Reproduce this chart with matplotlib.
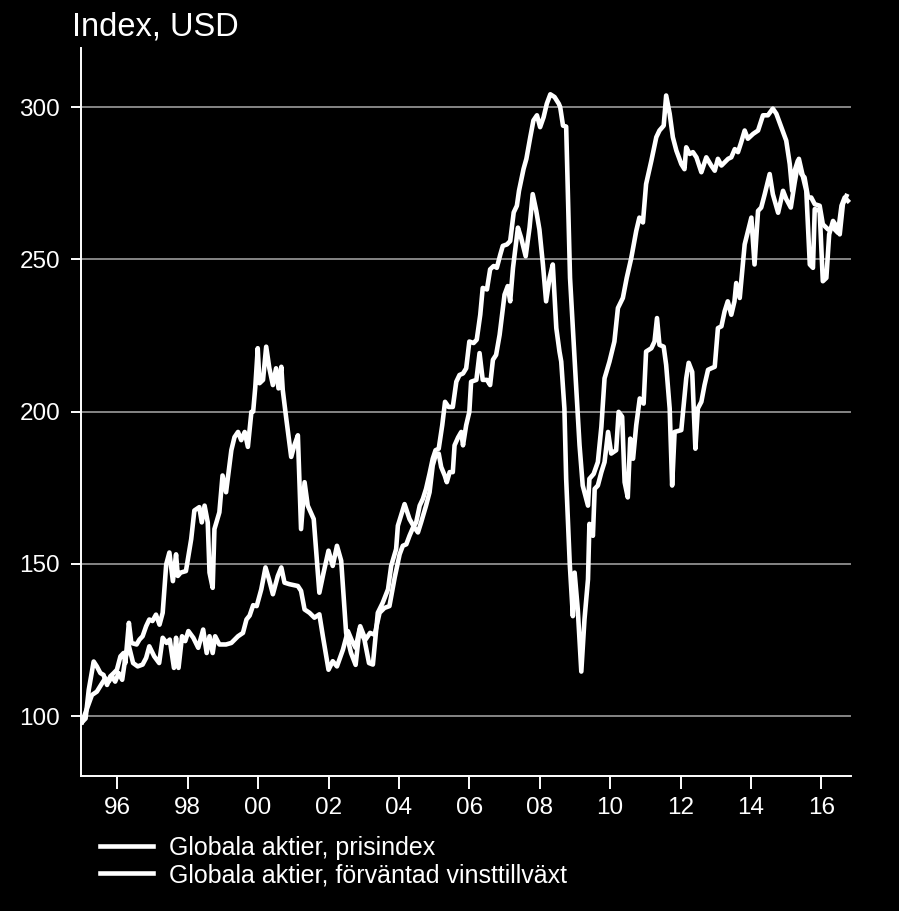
import matplotlib
matplotlib.use("Agg")
import matplotlib.pyplot as plt
from matplotlib.lines import Line2D

plt.rcParams['font.family'] = ['Liberation Sans', 'DejaVu Sans']

# ---------------- data (decimal years, index values) ----------------
price_t = [1995.00, 1995.10, 1995.19, 1995.33, 1995.42, 1995.52, 1995.61, 1995.71, 1995.80, 1995.90,
           1995.99, 1996.09, 1996.18, 1996.23, 1996.33, 1996.40, 1996.55, 1996.63, 1996.72, 1996.82,
           1996.91, 1997.00, 1997.10, 1997.20, 1997.29, 1997.39, 1997.48, 1997.58, 1997.67, 1997.72,
           1997.80, 1997.95, 1998.10, 1998.19, 1998.33, 1998.40, 1998.48, 1998.57, 1998.62, 1998.71,
           1998.76, 1998.90, 1998.99, 1999.09, 1999.24, 1999.33, 1999.43, 1999.52, 1999.62, 1999.71,
           1999.81, 1999.86, 1999.92, 1999.99, 2000.04, 2000.14, 2000.23, 2000.32, 2000.42, 2000.51,
           2000.58, 2000.66, 2000.70, 2000.80, 2000.94, 2001.03, 2001.13, 2001.22, 2001.32, 2001.41,
           2001.58, 2001.74, 2001.86, 2002.00, 2002.12, 2002.24, 2002.36, 2002.50, 2002.64, 2002.77,
           2002.88, 2003.02, 2003.15, 2003.26, 2003.40, 2003.54, 2003.69, 2003.78, 2003.92, 2003.97,
           2004.16, 2004.30, 2004.44, 2004.54, 2004.63, 2004.77, 2004.87, 2004.96, 2005.04, 2005.13,
           2005.20, 2005.30, 2005.36, 2005.44, 2005.53, 2005.58, 2005.68, 2005.77, 2005.82, 2005.91,
           2006.00, 2006.05, 2006.20, 2006.29, 2006.38, 2006.50, 2006.59, 2006.67, 2006.76, 2006.86,
           2007.00, 2007.09, 2007.16, 2007.24, 2007.38, 2007.47, 2007.60, 2007.71, 2007.80, 2007.90,
           2007.99, 2008.09, 2008.18, 2008.28, 2008.37, 2008.47, 2008.56, 2008.61, 2008.70, 2008.75,
           2008.85, 2008.94, 2008.99, 2009.08, 2009.18, 2009.27, 2009.37, 2009.41, 2009.51, 2009.56,
           2009.65, 2009.75, 2009.84, 2009.94, 2010.03, 2010.17, 2010.24, 2010.34, 2010.41, 2010.50,
           2010.57, 2010.65, 2010.74, 2010.84, 2010.95, 2011.02, 2011.17, 2011.26, 2011.33, 2011.40,
           2011.52, 2011.59, 2011.69, 2011.76, 2011.83, 2012.02, 2012.16, 2012.23, 2012.33, 2012.42,
           2012.49, 2012.59, 2012.68, 2012.78, 2012.87, 2012.97, 2013.06, 2013.16, 2013.25, 2013.34,
           2013.44, 2013.53, 2013.58, 2013.68, 2013.82, 2014.01, 2014.10, 2014.20, 2014.29, 2014.39,
           2014.53, 2014.62, 2014.77, 2014.91, 2015.00, 2015.13, 2015.24, 2015.36, 2015.48, 2015.57,
           2015.67, 2015.76, 2015.81, 2015.95, 2016.04, 2016.14, 2016.22, 2016.33, 2016.42, 2016.52,
           2016.61, 2016.71]
price_v = [98.0, 99.2, 108.6, 117.9, 116.3, 114.1, 113.5, 110.2, 113.0, 114.1,
           115.2, 119.6, 120.7, 117.4, 130.6, 124.0, 123.5, 125.1, 126.2, 129.5,
           131.7, 131.2, 133.3, 130.0, 133.9, 149.8, 153.7, 144.3, 153.1, 146.0,
           147.1, 147.6, 158.1, 167.5, 168.6, 163.6, 169.1, 163.6, 147.1, 142.1,
           161.4, 166.9, 179.0, 173.5, 187.3, 191.6, 193.3, 190.6, 193.3, 188.4,
           199.9, 200.0, 208.0, 220.8, 209.3, 210.4, 221.3, 214.2, 208.7, 214.2,
           207.6, 214.7, 207.1, 197.7, 185.1, 188.9, 192.2, 161.4, 176.8, 169.1,
           164.7, 140.5, 147.1, 154.3, 149.3, 155.9, 151.0, 127.3, 120.7, 116.8,
           128.4, 125.1, 117.4, 116.9, 133.9, 137.2, 141.6, 149.3, 154.8, 162.5,
           169.6, 164.7, 161.9, 160.3, 163.6, 169.1, 173.5, 182.3, 185.6, 186.2,
           181.8, 179.0, 176.8, 180.1, 180.1, 188.9, 191.5, 193.3, 188.9, 195.5,
           199.9, 209.8, 210.4, 219.2, 210.4, 210.4, 208.7, 217.0, 218.6, 225.2,
           238.4, 241.2, 236.2, 247.2, 260.4, 257.1, 251.0, 260.4, 271.4, 265.9,
           259.8, 248.3, 236.2, 243.9, 248.3, 227.4, 219.7, 216.4, 201.0, 177.9,
           150.4, 132.8, 147.1, 135.0, 114.6, 131.7, 144.9, 163.1, 159.2, 174.6,
           175.7, 180.1, 183.4, 193.3, 186.2, 187.3, 199.9, 198.3, 176.8, 171.8,
           191.1, 184.5, 195.5, 204.3, 202.6, 219.7, 220.8, 223.0, 230.7, 221.9,
           221.3, 215.3, 201.0, 175.7, 193.3, 193.9, 210.9, 216.0, 213.0, 187.8,
           201.0, 203.2, 208.7, 213.7, 214.2, 214.7, 227.4, 228.0, 232.9, 236.2,
           231.8, 236.2, 242.2, 237.3, 254.9, 263.7, 248.3, 265.9, 267.0, 271.4,
           278.0, 271.4, 265.3, 272.5, 269.8, 267.0, 275.2, 283.0, 276.9, 272.5,
           248.3, 247.2, 266.5, 265.9, 242.8, 243.9, 258.2, 262.6, 261.0, 258.2,
           268.1, 270.8]

earn_t = [1995.00, 1995.14, 1995.28, 1995.42, 1995.57, 1995.66, 1995.76, 1995.85, 1995.94, 1996.04,
          1996.14, 1996.23, 1996.33, 1996.45, 1996.58, 1996.72, 1996.82, 1996.91, 1997.05, 1997.19,
          1997.29, 1997.40, 1997.49, 1997.61, 1997.67, 1997.74, 1997.84, 1997.93, 1998.02, 1998.16,
          1998.30, 1998.44, 1998.54, 1998.62, 1998.71, 1998.78, 1998.90, 1999.09, 1999.24, 1999.43,
          1999.57, 1999.67, 1999.76, 1999.86, 1999.96, 2000.09, 2000.21, 2000.31, 2000.42, 2000.56,
          2000.66, 2000.75, 2000.89, 2001.13, 2001.22, 2001.32, 2001.46, 2001.60, 2001.74, 2001.84,
          2002.00, 2002.12, 2002.24, 2002.41, 2002.55, 2002.67, 2002.77, 2002.90, 2003.05, 2003.18,
          2003.31, 2003.45, 2003.59, 2003.73, 2003.88, 2004.02, 2004.11, 2004.21, 2004.30, 2004.40,
          2004.49, 2004.59, 2004.68, 2004.77, 2004.87, 2004.96, 2005.04, 2005.13, 2005.23, 2005.31,
          2005.41, 2005.53, 2005.63, 2005.72, 2005.82, 2005.91, 2006.00, 2006.12, 2006.21, 2006.31,
          2006.38, 2006.50, 2006.59, 2006.69, 2006.78, 2006.88, 2006.95, 2007.07, 2007.16, 2007.26,
          2007.35, 2007.41, 2007.54, 2007.62, 2007.73, 2007.82, 2007.92, 2008.01, 2008.11, 2008.20,
          2008.30, 2008.42, 2008.54, 2008.58, 2008.66, 2008.75, 2008.81, 2008.86, 2008.94, 2009.02,
          2009.13, 2009.22, 2009.32, 2009.37, 2009.41, 2009.53, 2009.65, 2009.75, 2009.84, 2009.98,
          2010.12, 2010.22, 2010.36, 2010.47, 2010.60, 2010.74, 2010.83, 2010.93, 2011.02, 2011.17,
          2011.31, 2011.40, 2011.52, 2011.59, 2011.69, 2011.78, 2011.88, 2012.02, 2012.11, 2012.16,
          2012.26, 2012.35, 2012.45, 2012.59, 2012.73, 2012.87, 2012.97, 2013.06, 2013.16, 2013.35,
          2013.44, 2013.54, 2013.63, 2013.72, 2013.82, 2013.91, 2014.06, 2014.20, 2014.34, 2014.48,
          2014.62, 2014.72, 2014.86, 2015.00, 2015.10, 2015.17, 2015.24, 2015.33, 2015.43, 2015.52,
          2015.62, 2015.71, 2015.81, 2015.95, 2016.04, 2016.19, 2016.33, 2016.47, 2016.57, 2016.66,
          2016.75]
earn_v = [98.0, 102.5, 106.9, 108.0, 110.8, 112.4, 111.3, 113.0, 111.3, 114.1,
          111.9, 119.1, 123.0, 117.4, 116.3, 116.9, 119.1, 122.9, 119.6, 117.4,
          125.7, 124.0, 125.1, 115.8, 125.7, 115.8, 126.2, 124.6, 127.9, 125.7,
          122.4, 128.4, 120.7, 126.2, 120.7, 126.2, 123.5, 123.5, 124.0, 126.2,
          127.3, 131.7, 133.0, 136.4, 136.1, 141.6, 148.8, 144.9, 140.0, 146.0,
          148.8, 143.8, 143.3, 142.7, 141.1, 135.0, 133.9, 132.3, 133.4, 126.2,
          115.2, 118.0, 116.3, 121.8, 127.9, 124.6, 122.4, 129.5, 125.1, 127.3,
          126.7, 133.9, 135.5, 136.1, 145.5, 153.1, 155.9, 156.4, 159.2, 161.9,
          163.6, 169.1, 171.3, 174.6, 179.6, 184.5, 187.3, 187.8, 195.5, 203.2,
          201.5, 201.5, 209.8, 212.0, 212.5, 214.2, 223.0, 222.5, 223.6, 231.8,
          240.6, 240.1, 246.7, 247.8, 247.2, 251.6, 254.4, 254.9, 256.0, 265.4,
          267.6, 272.5, 279.7, 283.0, 290.1, 295.6, 297.3, 293.4, 296.7, 301.1,
          304.2, 303.3, 301.1, 300.0, 293.9, 293.6, 265.9, 243.9, 227.4, 210.9,
          188.9, 175.7, 171.3, 169.1, 177.9, 179.5, 183.4, 195.0, 210.9, 216.4,
          223.0, 234.0, 237.3, 243.9, 250.5, 259.3, 263.7, 262.1, 274.7, 282.4,
          290.1, 292.3, 293.9, 303.8, 297.8, 290.1, 285.7, 281.3, 279.6, 286.8,
          284.6, 285.2, 283.5, 278.6, 283.5, 280.8, 279.1, 283.0, 280.8, 283.0,
          283.5, 286.2, 285.2, 288.4, 292.3, 289.6, 291.2, 292.3, 297.3, 297.3,
          299.5, 297.8, 293.4, 289.0, 281.3, 272.5, 279.1, 282.4, 278.0, 276.9,
          270.3, 270.3, 268.1, 267.6, 261.5, 259.8, 260.4, 258.7, 267.6, 270.3,
          269.2]

x_ticks = [1996, 1998, 2000, 2002, 2004, 2006, 2008, 2010, 2012, 2014, 2016]
x_labels = ['96', '98', '00', '02', '04', '06', '08', '10', '12', '14', '16']
y_ticks = [100, 150, 200, 250, 300]
series_labels = ['Globala aktier, prisindex', 'Globala aktier, förväntad vinsttillväxt']
title = 'Index, USD'

# ---------------- figure ----------------
W, H = 899, 911
fig = plt.figure(figsize=(W / 100, H / 100), dpi=100, facecolor='black')
ax = fig.add_axes([81 / W, 1 - 776 / H, (851 - 81) / W, (776 - 48) / H])
ax.set_facecolor('black')

LW = 3.3
ax.plot(price_t, price_v, color='white', lw=LW, zorder=3, solid_joinstyle='round')
ax.plot(earn_t, earn_v, color='white', lw=LW, zorder=3, solid_joinstyle='round')

ax.set_xlim(1994.97, 2016.84)
ax.set_ylim(80.3, 319.4)

for s in ['top', 'right']:
    ax.spines[s].set_visible(False)
for s in ['left', 'bottom']:
    ax.spines[s].set_color('white')
    ax.spines[s].set_linewidth(1.4)

ax.set_yticks(y_ticks)
ax.set_yticklabels([str(v) for v in y_ticks])
ax.set_xticks(x_ticks)
ax.set_xticklabels(x_labels)
ax.tick_params(axis='y', colors='white', labelcolor='white', length=7, width=1.4,
               labelsize=17.5, pad=8)
ax.tick_params(axis='x', colors='white', labelcolor='white', length=9, width=1.4,
               labelsize=17.5, pad=6)
ax.yaxis.grid(True, color='#8f8f8f', lw=1.3, zorder=1)
ax.set_axisbelow(True)

fig.text(72 / W, 1 - 36 / H, title, color='white', fontsize=23.5, ha='left', va='baseline')

handles = [Line2D([], [], color='white', lw=LW), Line2D([], [], color='white', lw=LW)]
fig.legend(handles, series_labels, loc='upper left', bbox_to_anchor=(100 / W, 1 - 836 / H),
           frameon=False, fontsize=18, labelcolor='white', handlelength=2.1,
           handletextpad=0.65, labelspacing=0.12, borderpad=0, borderaxespad=0)

fig.savefig('out.png', dpi=100, facecolor='black')
